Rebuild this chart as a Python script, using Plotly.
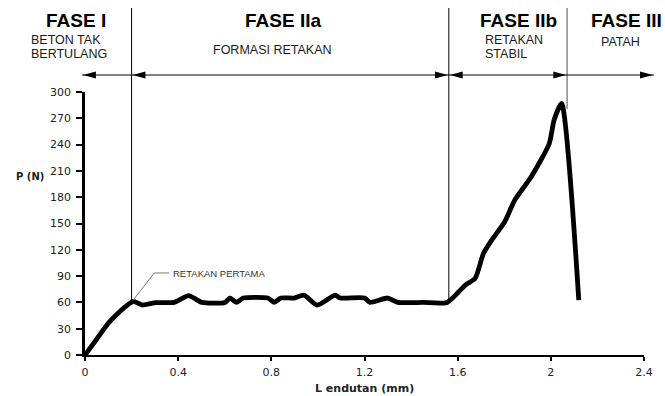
import plotly.graph_objects as go

# ---- data ----
lendutan = [0, 0.05, 0.106, 0.205, 0.247, 0.304, 0.382, 0.445, 0.502, 0.601, 0.622, 0.650,
            0.679, 0.785, 0.813, 0.841, 0.898, 0.940, 0.997, 1.074, 1.095, 1.201, 1.223,
            1.300, 1.343, 1.45, 1.555, 1.633, 1.675, 1.711, 1.746, 1.802, 1.845, 1.915, 1.993,
            2.014, 2.046, 2.120]
beban = [0, 18, 38, 61, 57, 59.7, 60, 67.7, 60, 60, 65, 60,
         65, 65, 60, 65, 65, 68.4, 57, 68.4, 65, 65, 60,
         65, 60, 60, 60, 79.8, 87.4, 116, 131, 152, 176.7, 203, 241,
         268, 287, 62.7]

x_ticks = [0, 0.4, 0.8, 1.2, 1.6, 2, 2.4]
x_ticklabels = ["0", "0.4", "0.8", "1.2", "1.6", "2", "2.4"]
y_ticks = [0, 30, 60, 90, 120, 150, 180, 210, 240, 270, 300]

phase_bounds = [0.2, 1.562, 2.07]          # x positions of phase boundaries (mm)
phase_bound_tops = [61, 60, 281]           # load where boundary line meets curve
phase_titles = ["FASE I", "FASE IIa", "FASE IIb", "FASE III"]

# ---- layout geometry (pixels) ----
W, H = 665, 396
L, R, T, B = 85, 15, 92, 41
PW, PH = W - L - R, H - T - B
XMAX, YMAX = 2.4, 300


def X(px):
    return (px - L) / PW


def Y(py):
    return (H - B - py) / PH


def dx(v):
    return L + v / XMAX * PW


def dy(v):
    return H - B - v / YMAX * PH


fig = go.Figure()
fig.add_trace(go.Scatter(x=lendutan, y=beban, mode="lines",
                         line=dict(color="black", width=4.8, shape="spline", smoothing=0.6),
                         hoverinfo="skip", showlegend=False))

shapes = []
annotations = []

# vertical phase lines
colors = ["black", "black", "#8a8a8a"]
widths = [1, 1, 1.5]
for b, top, c, w in zip(phase_bounds, phase_bound_tops, colors, widths):
    shapes.append(dict(type="line", xref="paper", yref="paper",
                       x0=X(dx(b)), x1=X(dx(b)), y0=Y(8), y1=Y(dy(top)),
                       line=dict(color=c, width=w)))

# arrows
ay_px = 75
xb = [dx(b) for b in phase_bounds]
segments = [(82, xb[0], True, False), (xb[0], xb[1], True, True),
            (xb[1], xb[2], True, True), (xb[2], 660, False, True)]


def tri(tip, direction):
    ln, hh = 13, 3.6
    base = tip - direction * ln
    pts = [(tip, ay_px), (base, ay_px - hh), (base, ay_px + hh)]
    return "M " + " L ".join(f"{X(p[0]):.5f},{Y(p[1]):.5f}" for p in pts) + " Z"


for a, b, lh, rh in segments:
    shapes.append(dict(type="line", xref="paper", yref="paper",
                       x0=X(a), x1=X(b), y0=Y(ay_px), y1=Y(ay_px),
                       line=dict(color="black", width=1)))
    if lh:
        shapes.append(dict(type="path", xref="paper", yref="paper", path=tri(a + 1, -1),
                           fillcolor="black", line=dict(width=0)))
    if rh:
        shapes.append(dict(type="path", xref="paper", yref="paper", path=tri(b - 1, 1),
                           fillcolor="black", line=dict(width=0)))

# header texts
hfont = dict(family="Liberation Sans, Arial", size=19, color="black")
sfont = dict(family="Liberation Sans, Arial", size=12.5, color="#1a1a1a")


def txt(s, px, py, font, xanchor="center"):
    annotations.append(dict(text=s, xref="paper", yref="paper", x=X(px), y=Y(py),
                            xanchor=xanchor, yanchor="middle", showarrow=False, font=font,
                            borderpad=0))


txt("<b>FASE I</b>", 76, 20.5, hfont)
txt("<b>FASE IIa</b>", 285, 20.5, hfont)
txt("<b>FASE IIb</b>", 523, 20.5, hfont)
txt("<b>FASE III</b>", 595, 20.5, hfont, "left")
txt("BETON TAK", 29, 40.5, sfont, "left")
txt("BERTULANG", 29, 54.5, sfont, "left")
txt("FORMASI RETAKAN", 213, 50, sfont, "left")
txt("RETAKAN", 488, 40.5, sfont, "left")
txt("STABIL", 488, 54.5, sfont, "left")
txt("PATAH", 606, 41.5, sfont, "left")

# first crack annotation
shapes.append(dict(type="path", xref="paper", yref="paper",
                   path=f"M {X(dx(0.205)):.5f},{Y(dy(62)):.5f} L {X(155):.5f},{Y(273):.5f} L {X(170):.5f},{Y(273):.5f}",
                   line=dict(color="#777777", width=1)))
txt("RETAKAN PERTAMA", 173, 273, dict(family="Liberation Sans, Arial", size=9.5, color="#333333"), "left")

# axis titles
txt("<b>P (N)</b>", 29, 176, dict(family="DejaVu Sans", size=10, color="#222222"))
txt("<b>L endutan (mm)</b>", 368, 388, dict(family="DejaVu Sans", size=11, color="#222222"))

fig.update_layout(
    width=W, height=H, margin=dict(l=L, r=R, t=T, b=B),
    paper_bgcolor="white", plot_bgcolor="white",
    shapes=shapes, annotations=annotations, showlegend=False,
    xaxis=dict(range=[0, XMAX], tickvals=x_ticks, ticktext=x_ticklabels,
               showgrid=False, zeroline=False, showline=True, linecolor="black", linewidth=1.5,
               ticks="outside", ticklen=4, tickwidth=1.5, tickcolor="black",
               ticklabelstandoff=2,
               tickfont=dict(family="DejaVu Sans", size=11, color="#222222")),
    yaxis=dict(range=[0, YMAX], tickvals=y_ticks,
               showgrid=False, zeroline=False, showline=True, linecolor="black", linewidth=2.5,
               ticks="outside", ticklen=6, tickwidth=1.5, tickcolor="black",
               ticklabelstandoff=3,
               tickfont=dict(family="DejaVu Sans", size=11, color="#222222")),
)

fig.write_html("out.html")
